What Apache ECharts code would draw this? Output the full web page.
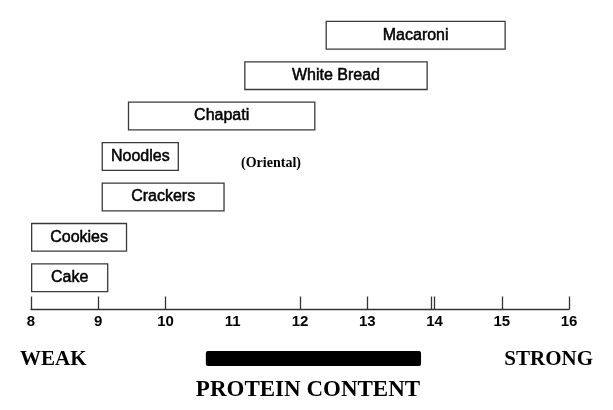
<!DOCTYPE html>
<html><head><meta charset="utf-8">
<script src="https://cdn.jsdelivr.net/npm/echarts@6/dist/echarts.min.js"></script>
<style>html,body{margin:0;padding:0;background:#fff}#c{width:613px;height:410px}</style>
</head><body><div id="c"></div>
<script>
// Foods and the protein range (%) suited to each
const foods = ['Cake', 'Cookies', 'Crackers', 'Noodles', 'Chapati', 'White Bread', 'Macaroni'];
const proteinLow = [8.0, 8.0, 9.05, 9.05, 9.44, 11.17, 12.38];
const proteinHigh = [9.15, 9.43, 10.88, 10.2, 12.23, 13.9, 15.06];
const axisLabelValues = [8, 9, 10, 11, 12, 13, 14, 15, 16];
const axisTickValues = [8, 9, 10, 12, 13, 13.95, 14, 15, 16];
const strengthBarRange = [10.6, 13.8];
const noodleNote = '(Oriental)';
const weakText = 'WEAK';
const strongText = 'STRONG';
const axisTitle = 'PROTEIN CONTENT';

const span = proteinHigh.map((h, i) => +(h - proteinLow[i]).toFixed(3));
const SANS = 'Liberation Sans, Arial, sans-serif';
const SERIF = 'Liberation Serif, Times New Roman, serif';

const chart = echarts.init(document.getElementById('c'), null, {renderer: 'canvas'});
chart.setOption({
  backgroundColor: '#ffffff',
  animation: false,
  grid: [
    {left: 31, right: 44, top: 15, bottom: 112},
    {left: 31, right: 44, top: 351, height: 15}
  ],
  xAxis: [
    {
      type: 'value', gridIndex: 0, min: 8, max: 16, offset: 11.5,
      axisLine: {show: true, lineStyle: {color: '#333', width: 1.3}},
      axisTick: {show: true, inside: true, length: 13, customValues: axisTickValues,
                 lineStyle: {color: '#333', width: 1.3}},
      axisLabel: {show: true, customValues: axisLabelValues, margin: 5,
                  fontFamily: SANS, fontSize: 15, fontWeight: 'bold', color: '#000'},
      splitLine: {show: false}
    },
    {type: 'value', gridIndex: 1, min: 8, max: 16, show: false}
  ],
  yAxis: [
    {type: 'category', gridIndex: 0, data: foods, show: false},
    {type: 'category', gridIndex: 1, data: [axisTitle], show: false}
  ],
  series: [
    {
      type: 'bar', xAxisIndex: 0, yAxisIndex: 0, stack: 'food', barWidth: 29,
      data: proteinLow, itemStyle: {color: 'rgba(0,0,0,0)'}, silent: true
    },
    {
      type: 'bar', xAxisIndex: 0, yAxisIndex: 0, stack: 'food', barWidth: 29,
      data: span,
      itemStyle: {color: '#fff', borderColor: '#3a3a3a', borderWidth: 1.3},
      label: {show: true, position: 'inside', formatter: '{b}',
              fontFamily: SANS, fontSize: 16, fontWeight: 'normal', color: '#000',
              textBorderColor: '#000', textBorderWidth: 0.5}
    },
    {
      type: 'bar', xAxisIndex: 1, yAxisIndex: 1, stack: 'strength', barWidth: 15,
      data: [strengthBarRange[0]], itemStyle: {color: 'rgba(0,0,0,0)'}, silent: true
    },
    {
      type: 'bar', xAxisIndex: 1, yAxisIndex: 1, stack: 'strength', barWidth: 15,
      data: [+(strengthBarRange[1] - strengthBarRange[0]).toFixed(3)],
      itemStyle: {color: '#000', borderRadius: 2}
    }
  ],
  graphic: [
    {type: 'text', x: 271, y: 163, style: {text: noodleNote, fill: '#000',
      font: 'bold 14px ' + SERIF, textAlign: 'center', textVerticalAlign: 'middle'}},
    {type: 'text', x: 20, y: 360, style: {text: weakText, fill: '#000',
      font: 'bold 21px ' + SERIF, textAlign: 'left', textVerticalAlign: 'middle'}},
    {type: 'text', x: 593, y: 360, style: {text: strongText, fill: '#000',
      font: 'bold 21px ' + SERIF, textAlign: 'right', textVerticalAlign: 'middle'}},
    {type: 'text', x: 308, y: 390, style: {text: axisTitle, fill: '#000',
      font: 'bold 23px ' + SERIF, textAlign: 'center', textVerticalAlign: 'middle'}}
  ]
});
</script>
</body></html>
